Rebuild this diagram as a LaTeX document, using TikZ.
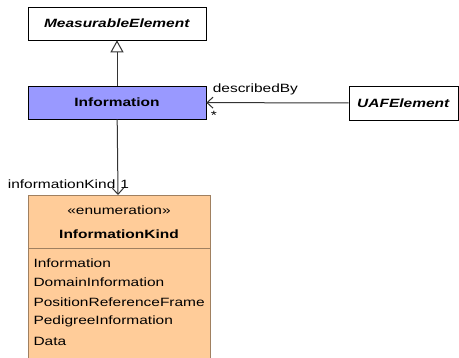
\documentclass[tikz,border=0pt]{standalone}
\usepackage{fontspec}
\setmainfont{Liberation Sans}[FakeStretch=1.29]
\usetikzlibrary{arrows.meta}
\definecolor{infoblue}{HTML}{9999FF}
\definecolor{enumfill}{HTML}{FFCC99}
\definecolor{enumline}{HTML}{A08060}
\begin{document}
\begin{tikzpicture}[
	x=1pt, y=1pt,
	every node/.style={ font=\fontsize{12}{14}\selectfont },
	classbox/.style={ draw, semithick, minimum width=178pt, minimum height=33pt, inner sep=0pt },
	gen/.style={ draw=black!80, line width=1pt, -{Triangle[open,length=12pt,width=13pt]} },
	assoc/.style={ draw=black!80, line width=1pt, -{Straight Barb[length=6pt,width=11pt]} }
]

\useasboundingbox (0,0) rectangle (459,358);
\node at (117,334.5) (meas) [classbox,fill=white] {\textbf{\textit{MeasurableElement}}};
\node at (117,255.5) (info) [classbox,fill=infoblue] {\textbf{Information}};
\node at (403.5,255) (uaf) [classbox,fill=white,minimum width=109pt,minimum height=34pt] {\textbf{\textit{UAFElement}}};
\node at (119,163) (kind) [draw=enumline,semithick,fill=enumfill,anchor=north,minimum width=182pt,minimum height=180pt] {};
\draw[enumline,semithick] (28,110) -- (210,110);
\node at (119,148) {«enumeration»};
\node at (119,124) {\textbf{InformationKind}};
\foreach \y/\t in {95/Information,75.5/DomainInformation,56/PositionReferenceFrame,36.5/PedigreeInformation,17/Data}
	\node[anchor=west] at (30,\y) {\t};
\draw[gen] (info) -- (meas);
\draw[assoc] (uaf) -- (info)
	node[pos=1,anchor=south west,inner sep=0pt,xshift=6pt,yshift=7pt] {describedBy}
	node[pos=1,anchor=north west,inner sep=0pt,xshift=4pt,yshift=-8pt] {*};
\draw[assoc] (info) -- (kind)
	node[pos=0.86,left,inner sep=2pt] {informationKind}
	node[pos=0.86,right,inner sep=2pt] {1};

\end{tikzpicture}
\end{document}
